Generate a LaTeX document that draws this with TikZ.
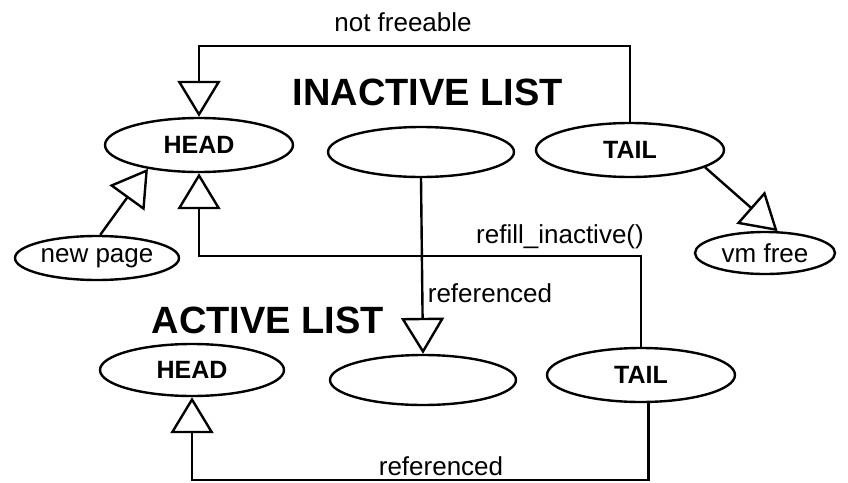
\documentclass[tikz,border=0pt]{standalone}
\usepackage{fontspec}
\setmainfont{Liberation Sans}
\usetikzlibrary{shapes.geometric,arrows.meta}

\begin{document}
\begin{tikzpicture}[x=1pt, y=-1pt]
    % Styles
    \tikzstyle{lst} = [ellipse, draw=black, line width=2.4pt, inner sep=0pt, minimum width=188pt, minimum height=54pt, font=\fontsize{25}{28}\selectfont\bfseries]
    \tikzstyle{small} = [lst, font=\fontsize{26}{30}\selectfont]
    \tikzstyle{flow} = [-{Triangle[open, length=36pt, width=43pt]}, line width=2.4pt]
    \tikzstyle{lbl} = [inner sep=0pt, font=\fontsize{26}{30}\selectfont]
    \tikzstyle{ttl} = [inner sep=0pt, font=\fontsize{38}{44}\selectfont\bfseries]

    \useasboundingbox[fill=white] (0,0) rectangle (848,482);

    % Inactive list
    \node[ttl] (inact) at (428,92) {INACTIVE LIST};
    \node[lst] (ihead) at (199,145) {HEAD};
    \node[lst, minimum width=186pt, minimum height=50pt] (imid) at (421,152) {};
    \node[lst] (itail) at (630,150) {TAIL};
    \node[small, minimum width=164pt, minimum height=44pt] (newpage) at (97,258) {new page};
    \node[small, minimum width=140pt, minimum height=42pt] (vmfree) at (765,253) {vm free};

    % Active list
    \node[ttl] (act) at (268,320) {ACTIVE LIST};
    \node[lst, minimum width=184pt, minimum height=52pt] (ahead) at (192,370) {HEAD};
    \node[lst, minimum width=186pt, minimum height=50pt] (amid) at (423,380) {};
    \node[lst] (atail) at (641,375) {TAIL};

    % Helper heights
    \coordinate (topy) at (0,46);
    \coordinate (refy) at (0,256);
    \coordinate (boty) at (0,480);

    % Arrows
    \draw[flow] (itail.north) -- (itail.north |- topy) -| (ihead.north);
    \draw[flow] (newpage.82) -- (ihead.205);
    \draw[flow] (itail.-13) -- (vmfree.60);
    \draw[flow] (atail.north) -- (atail.north |- refy) -| (ihead.south);
    \draw[flow] (imid.south) -- (amid.north);
    \draw[flow] (atail.-75) -- (atail.-75 |- boty) -| (ahead.south);

    % Labels
    \node[lbl] (nf) at (403,22) {not freeable};
    \node[lbl] (refill) at (560,237) {refill\_inactive()};
    \node[lbl] (ref1) at (490,293) {referenced};
    \node[lbl] (ref2) at (441,466) {referenced};
\end{tikzpicture}
\end{document}
